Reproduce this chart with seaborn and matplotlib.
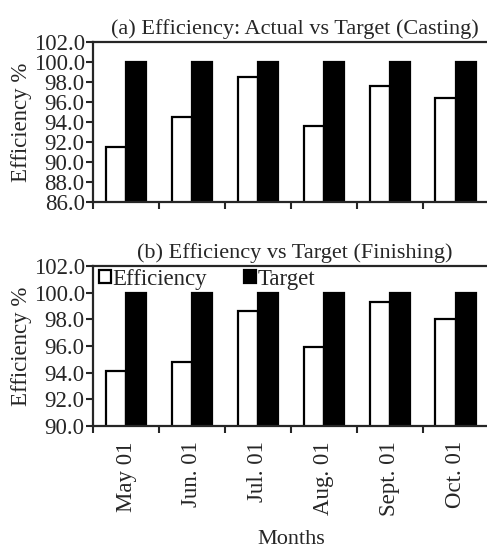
import pandas as pd
import seaborn as sns
import numpy as np
import matplotlib.pyplot as plt
from matplotlib.ticker import FormatStrFormatter, FixedLocator

months = ["May 01", "Jun. 01", "Jul. 01", "Aug. 01", "Sept. 01", "Oct. 01"]
casting_eff = [91.5, 94.5, 98.5, 93.6, 97.6, 96.4]
casting_target = [100.0, 100.0, 100.0, 100.0, 100.0, 100.0]
finishing_eff = [94.1, 94.8, 98.6, 95.9, 99.3, 98.0]
finishing_target = [100.0, 100.0, 100.0, 100.0, 100.0, 100.0]

sns.set_style("ticks")
plt.rcParams["font.family"] = ["Liberation Serif", "DejaVu Serif"]
plt.rcParams["font.size"] = 16


def to_long(eff, target):
    return pd.DataFrame({
        "Month": months * 2,
        "Value": list(eff) + list(target),
        "Series": ["Efficiency"] * len(months) + ["Target"] * len(months),
    })


palette = {"Efficiency": "white", "Target": "black"}

fig = plt.figure(figsize=(4.87, 5.57), dpi=100)
ax1 = fig.add_axes([0.191, 0.6373, 0.813, 0.2873])
ax2 = fig.add_axes([0.191, 0.2352, 0.813, 0.2872])

panels = [
    (ax1, to_long(casting_eff, casting_target), (86, 102),
     "(a) Efficiency: Actual vs Target (Casting)", False),
    (ax2, to_long(finishing_eff, finishing_target), (90, 102),
     "(b) Efficiency vs Target (Finishing)", True),
]

for ax, df, ylim, title, show_x in panels:
    sns.barplot(data=df, x="Month", y="Value", hue="Series", palette=palette,
                width=0.62, edgecolor="black", linewidth=1.6, ax=ax,
                legend=show_x)
    ax.set_ylim(*ylim)
    ax.set_xlim(-0.5, len(months) - 0.5)
    ax.yaxis.set_major_locator(FixedLocator(np.arange(ylim[0], ylim[1] + 0.1, 2)))
    ax.yaxis.set_major_formatter(FormatStrFormatter("%.1f"))
    ax.set_xticks(np.arange(len(months)))
    ax.set_xticks(np.arange(-0.5, len(months), 1.0), minor=True)
    ax.tick_params(axis="x", which="major", length=0, labelsize=16.5, pad=11)
    ax.tick_params(axis="x", which="minor", length=5, width=1.5, direction="out")
    ax.tick_params(axis="y", length=5, width=1.5, direction="out", pad=1,
                   labelsize=16.5)
    for s in ax.spines.values():
        s.set_linewidth(1.6)
        s.set_visible(True)
    ax.set_ylabel("Efficiency %", fontsize=16.5, labelpad=1)
    ax.set_title(title, fontsize=16, pad=6, x=0.51)
    ax.set_xlabel("")
    if show_x:
        ax.set_xticklabels(months, rotation=90)
        ax.set_xlabel("Months", fontsize=16, labelpad=10)
        ax.legend(loc="upper left", bbox_to_anchor=(0.0, 1.02), frameon=False,
                  ncol=2, handlelength=0.55, handleheight=0.55,
                  handletextpad=0.05, columnspacing=1.6,
                  borderaxespad=0.05, borderpad=0.2, fontsize=16.5)
    else:
        ax.set_xticklabels([])

fig.savefig("out.png", dpi=100)
